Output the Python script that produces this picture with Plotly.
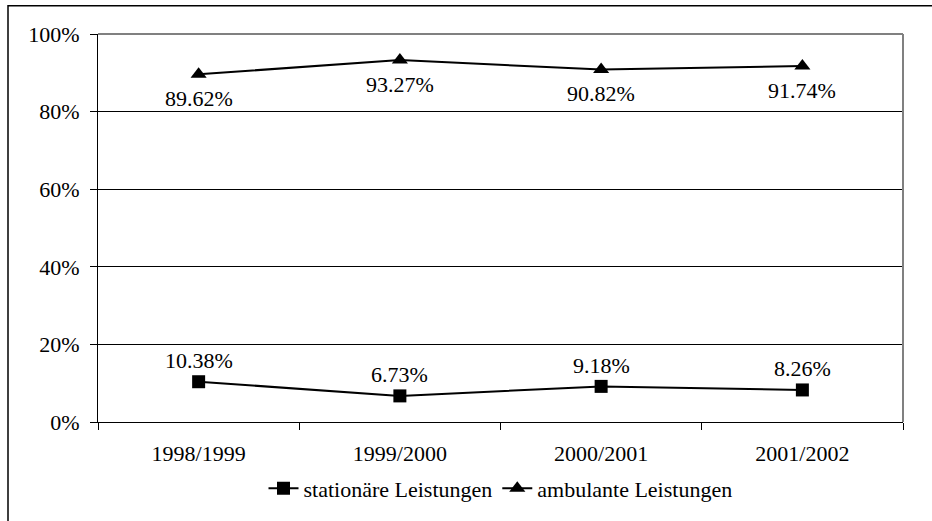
import plotly.graph_objects as go

categories = ["1998/1999", "1999/2000", "2000/2001", "2001/2002"]
stationaer = [10.38, 6.73, 9.18, 8.26]
ambulant = [89.62, 93.27, 90.82, 91.74]
y_ticks = [0, 20, 40, 60, 80, 100]
y_tick_labels = ["0%", "20%", "40%", "60%", "80%", "100%"]

FAM = "Liberation Serif"

def f(size=22):
    return dict(family=FAM, size=size, color="black")

fig = go.Figure()
fig.add_trace(go.Scatter(
    x=categories, y=stationaer, name="stationäre Leistungen",
    mode="lines+markers",
    line=dict(color="black", width=2),
    marker=dict(symbol="square", size=13, color="black"),
    cliponaxis=False,
))
fig.add_trace(go.Scatter(
    x=categories, y=ambulant, name="ambulante Leistungen",
    mode="lines+markers",
    line=dict(color="black", width=2),
    marker=dict(symbol="triangle-up", size=14, color="black"),
    cliponaxis=False,
))

# data labels as annotations anchored at the data values
annotations = []
for c, v in zip(categories, stationaer):
    annotations.append(dict(x=c, y=v, text=f"{v:.2f}%", showarrow=False,
                            yanchor="middle", yshift=21, font=f()))
for c, v in zip(categories, ambulant):
    annotations.append(dict(x=c, y=v, text=f"{v:.2f}%", showarrow=False,
                            yanchor="middle", yshift=-24, font=f()))

fig.update_layout(
    width=932, height=521,
    margin=dict(l=98, r=29, t=34, b=89),
    paper_bgcolor="white", plot_bgcolor="white",
    font=f(),
    showlegend=True,
    legend=dict(orientation="h", x=0.5, xanchor="center", y=-0.171, yanchor="middle",
                font=f(), bgcolor="rgba(0,0,0,0)", tracegroupgap=0),
    xaxis=dict(
        type="category", range=[-0.5, 3.5], tickson="boundaries",
        ticks="outside", ticklen=7, tickcolor="black", tickwidth=1,
        showline=True, linecolor="black", linewidth=1,
        showgrid=False, zeroline=False, tickfont=f(), ticklabelstandoff=12,
    ),
    yaxis=dict(
        range=[0, 100], tickvals=y_ticks, ticktext=y_tick_labels,
        ticks="outside", ticklen=7, tickcolor="black", tickwidth=1,
        showline=True, linecolor="black", linewidth=1,
        showgrid=True, gridcolor="black", gridwidth=1,
        zeroline=False, tickfont=f(), ticklabelstandoff=6,
    ),
    annotations=annotations,
    shapes=[
        dict(type="line", xref="paper", yref="paper", x0=0, x1=1, y0=1, y1=1,
             line=dict(color="#808080", width=2)),
        dict(type="line", xref="paper", yref="paper", x0=1, x1=1, y0=0, y1=1,
             line=dict(color="#808080", width=2)),
        dict(type="rect", xref="paper", yref="paper", x0=-0.1118, x1=1.2, y0=-0.4, y1=1.0729,
             line=dict(color="black", width=1.5), layer="below"),
    ],
)

fig.write_html("out.html", config={"displayModeBar": False},
               post_script="document.body.style.margin='0';")
